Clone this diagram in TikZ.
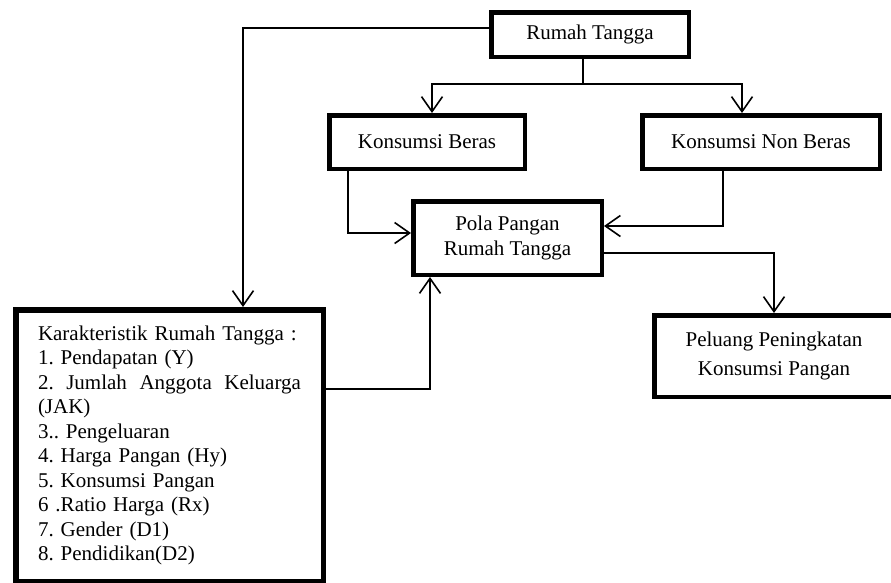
\documentclass[tikz,border=0pt]{standalone}
\usepackage{fontspec}
\setmainfont{Liberation Serif}
\frenchspacing
\usetikzlibrary{arrows.meta}
\tikzset{
  box/.style={draw=black, line width=4.5pt, rectangle, fill=white, align=center, inner sep=0pt},
  line/.style={draw=black, line width=1.6pt},
  conn/.style={line, -{Straight Barb[length=15pt,width=21pt,line width=1.6pt]}},
}
\begin{document}
\begin{tikzpicture}[x=1pt,y=-1pt,font=\fontsize{21}{24.5}\selectfont]
\fill[white] (0,0) rectangle (891,582);
\useasboundingbox (0,0) rectangle (891,582);

\node[box, minimum width=197.5pt, minimum height=44.8pt] (rt) at (590,34.7) {Rumah Tangga};
\node[box, minimum width=195.5pt, minimum height=53.5pt] (kb) at (427,142) {Konsumsi Beras};
\node[box, minimum width=237.5pt, minimum height=53.5pt] (knb) at (761,142) {Konsumsi Non Beras};
\node[box, minimum width=188.5pt, minimum height=73.5pt] (pp) at (507.5,238) {Pola Pangan\\Rumah Tangga};
\node[box, line width=5.5pt, minimum width=307.5pt, minimum height=271.5pt, text width=263pt, align=left] (kr) at (169.5,445.5) {%
Karakteristik Rumah Tangga :\\
1. Pendapatan (Y)\\
\leavevmode\hbox to 263pt{2. \hfill Jumlah \hfill Anggota \hfill Keluarga}\\
(JAK)\\
3.. Pengeluaran\\
4. Harga Pangan (Hy)\\
5. Konsumsi Pangan\\
6 .Ratio Harga (Rx)\\
7. Gender (D1)\\
8. Pendidikan(D2)};
\node[box, minimum width=239.5pt, minimum height=81.5pt, font=\fontsize{21}{29.5}\selectfont] (pl) at (774,356) {Peluang Peningkatan\\Konsumsi Pangan};

\coordinate (p1) at (243,28);
\coordinate (p2) at (583,84);
\coordinate (p3) at (432,84);
\coordinate (p4) at (742,84);
\coordinate (p5) at (348,233);
\coordinate (p6) at (723,226);
\coordinate (p7) at (775,253);
\coordinate (p8) at (430,389);

\draw[conn] (rt.west |- p1) -| (kr.north -| p1);
\draw[line] (rt.south -| p2) -- (p2);
\draw[conn] (p2) -- (p3) -- (kb.north -| p3);
\draw[conn] (p2) -- (p4) -- (knb.north -| p4);
\draw[conn] (kb.south -| p5) |- (pp.west |- p5);
\draw[conn] (knb.south -| p6) |- (pp.east |- p6);
\draw[conn] (pp.east |- p7) -| (pl.north);
\draw[conn] (kr.east |- p8) -| (pp.south -| p8);
\end{tikzpicture}
\end{document}
